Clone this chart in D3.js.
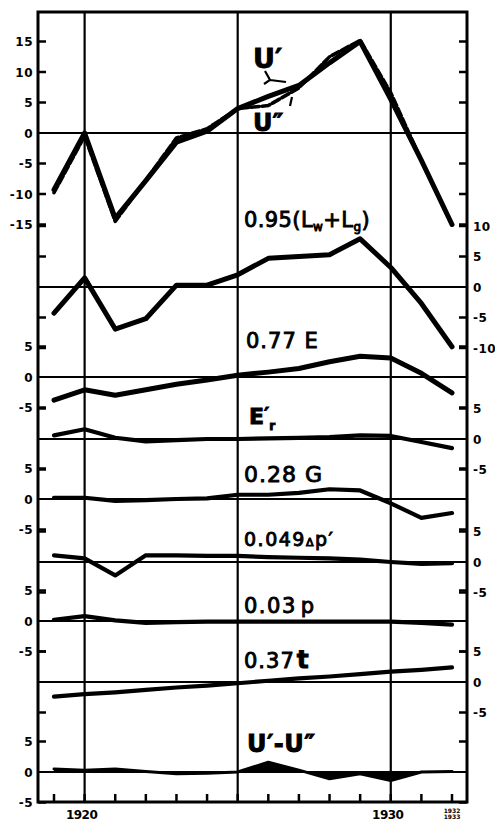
<!DOCTYPE html>
<html>
<head>
<meta charset="utf-8">
<script src="https://cdn.jsdelivr.net/npm/d3@7"></script>
<style>
  body { margin: 0; background: #fff; }
  svg { display: block; }
  text { font-family: "DejaVu Sans", sans-serif; fill: #000; }
</style>
</head>
<body>
<div id="chart"></div>
<script>
// years on the x axis
var years = [1919, 1920, 1921, 1922, 1923, 1924, 1925, 1926, 1927, 1928, 1929, 1930, 1931, 1932];

// series values
var uPrime  = [-9.3, 0, -14, -7.8, -1.5, 0.3, 4, 6.0, 7.8, 11.5, 15, 5.5, -4.5, -15];
var uSecond = [-9.8, -0.5, -14.5, -7.7, -0.8, 0.7, 4, 4.5, 7.4, 12.5, 15.2, 6.6, -4.5, -15.1];
var lwlg    = [-4.3, 1.5, -6.9, -5.2, 0.3, 0.3, 2.0, 4.7, 5.0, 5.3, 7.9, 3.2, -2.7, -9.8];
var e77     = [-3.8, -2.1, -3.0, -2.1, -1.2, -0.5, 0.3, 0.8, 1.4, 2.5, 3.4, 3.1, 0.6, -2.6];
var eR      = [0.6, 1.6, 0.2, -0.4, -0.2, 0, 0, 0.1, 0.2, 0.3, 0.6, 0.5, -0.5, -1.5];
var g28     = [0.2, 0.2, -0.3, -0.2, 0, 0.1, 0.7, 0.7, 1.0, 1.6, 1.4, -0.7, -3.1, -2.3];
var dp049   = [1.1, 0.6, -2.2, 1.1, 1.1, 1.0, 1.0, 0.8, 0.7, 0.6, 0.4, 0, -0.3, -0.2];
var p03     = [0.2, 0.8, 0.1, -0.3, -0.2, -0.1, -0.1, -0.1, -0.1, -0.1, -0.1, -0.1, -0.3, -0.6];
var t37     = [-2.4, -2.0, -1.7, -1.3, -0.9, -0.6, -0.2, 0.2, 0.6, 0.9, 1.3, 1.7, 2.0, 2.4];
var uDiff   = [0.5, 0.3, 0.5, 0.1, -0.3, -0.2, 0, 1.6, 0.3, -1.1, -0.3, -1.4, 0, 0.1];

// tick labels
var bigTicks   = [15, 10, 5, 0, -5, -10, -15];
var wideTicks  = [10, 5, 0, -5, -10];
var smallTicks = [5, 0, -5];
var yearLabels = [1920, 1930];
var gridYears  = [1920, 1925, 1930];

var width = 495, height = 827;
var frame = { left: 38, right: 467, top: 12, bottom: 802 };
var unit = 6.1; // px per unit on every panel

// layout of the stacked panels: baseline (zero line) in px, side of labels
var panels = [
    { values: uPrime,  zero: 133, side: 'left',  ticks: bigTicks },
    { values: lwlg,    zero: 287, side: 'right', ticks: wideTicks },
    { values: e77,     zero: 377, side: 'left',  ticks: smallTicks },
    { values: eR,      zero: 439, side: 'right', ticks: smallTicks },
    { values: g28,     zero: 499, side: 'left',  ticks: smallTicks },
    { values: dp049,   zero: 562, side: 'right', ticks: smallTicks },
    { values: p03,     zero: 621, side: 'left',  ticks: smallTicks },
    { values: t37,     zero: 682, side: 'right', ticks: smallTicks },
    { values: uDiff,   zero: 772, side: 'left',  ticks: smallTicks, filled: true }
];

panels.forEach(function (p) {
    p.y = d3.scaleLinear().domain([-1, 1]).range([p.zero + unit, p.zero - unit]);
});

var x = d3.scaleLinear().domain([1919, 1932]).range([54, 452]);

var svg = d3.select('#chart').append('svg')
    .attr('width', width)
    .attr('height', height);

// zero lines
panels.forEach(function (p) {
    svg.append('line')
        .attr('x1', frame.left).attr('x2', frame.right)
        .attr('y1', p.y(0)).attr('y2', p.y(0))
        .style('stroke', '#000').style('stroke-width', 2.2);
});

// vertical grid lines
gridYears.forEach(function (yr) {
    svg.append('line')
        .attr('x1', x(yr)).attr('x2', x(yr))
        .attr('y1', frame.top).attr('y2', frame.bottom)
        .style('stroke', '#000').style('stroke-width', 2.2);
});

// frame
svg.append('rect')
    .attr('x', frame.left).attr('y', frame.top)
    .attr('width', frame.right - frame.left)
    .attr('height', frame.bottom - frame.top)
    .attr('fill', 'none')
    .style('stroke', '#000').style('stroke-width', 3);

// y ticks, inward on both sides; labels on the panel's side
panels.forEach(function (p) {
    p.ticks.forEach(function (t) {
        var ty = p.y(t);
        if (ty < frame.top + 4 || ty > frame.bottom + 2) { return; }
        if (t !== 0) {
            svg.append('line')
                .attr('x1', frame.left).attr('x2', frame.left + 8)
                .attr('y1', ty).attr('y2', ty)
                .style('stroke', '#000').style('stroke-width', 2.5);
            svg.append('line')
                .attr('x1', frame.right - 8).attr('x2', frame.right)
                .attr('y1', ty).attr('y2', ty)
                .style('stroke', '#000').style('stroke-width', 2.5);
        }
        svg.append('text')
            .attr('x', p.side === 'left' ? frame.left - 5 : frame.right + 6)
            .attr('y', ty + 4.5)
            .attr('text-anchor', p.side === 'left' ? 'end' : 'start')
            .style('font-size', '12px')
            .style('font-weight', 'bold')
            .style('letter-spacing', '0.5px')
            .text(t);
    });
});

// bottom year ticks
years.forEach(function (yr) {
    svg.append('line')
        .attr('x1', x(yr)).attr('x2', x(yr))
        .attr('y1', frame.bottom).attr('y2', frame.bottom - 8)
        .style('stroke', '#000').style('stroke-width', 2.5);
});

yearLabels.forEach(function (yr) {
    svg.append('text')
        .attr('x', x(yr) - 3)
        .attr('y', frame.bottom + 17)
        .attr('text-anchor', 'middle')
        .style('font-size', '12px')
        .style('font-weight', 'bold')
        .style('letter-spacing', '-0.5px')
        .text(yr);
});

// tiny stacked label under the last year
svg.append('text')
    .attr('x', x(1932)).attr('y', frame.bottom + 11)
    .attr('text-anchor', 'middle')
    .style('font-size', '6px').style('font-weight', 'bold')
    .text('1932');
svg.append('text')
    .attr('x', x(1932)).attr('y', frame.bottom + 17)
    .attr('text-anchor', 'middle')
    .style('font-size', '6px').style('font-weight', 'bold')
    .text('1933');

// series lines
function drawSeries(p, values, width, dash) {
    var line = d3.line()
        .x(function (d, i) { return x(years[i]); })
        .y(function (d) { return p.y(d); });
    if (p.filled) {
        var area = d3.area()
            .x(function (d, i) { return x(years[i]); })
            .y0(p.y(0))
            .y1(function (d) { return p.y(d); });
        svg.append('path')
            .datum(values)
            .attr('d', area)
            .attr('fill', '#000');
    }
    svg.append('path')
        .datum(values)
        .attr('d', line)
        .attr('fill', 'none')
        .style('stroke', '#000')
        .style('stroke-width', width)
        .style('stroke-linejoin', 'round')
        .style('stroke-linecap', 'round')
        .style('stroke-dasharray', dash || null);
}

drawSeries(panels[0], uSecond, 3.5, '8,3');
drawSeries(panels[0], uPrime, 5);
for (var i = 1; i < panels.length; i++) {
    drawSeries(panels[i], panels[i].values, i < 3 ? 5 : (panels[i].filled ? 3 : 4.2));
}

// series labels
function label(xPos, yPos, size, parts) {
    var t = svg.append('text')
        .attr('x', xPos).attr('y', yPos)
        .style('font-size', size + 'px')
        .style('stroke', '#000').style('stroke-width', 0.9);
    parts.forEach(function (part) {
        var s = t.append('tspan').text(part.t);
        if (part.size) { s.style('font-size', part.size + 'px'); }
        if (part.dy) { s.attr('dy', part.dy); }
        if (part.dx) { s.attr('dx', part.dx); }
        if (part.bold) { s.style('font-weight', 'bold'); }
    });
    return t;
}

label(253, 68, 27, [{ t: 'U′' }]).style('font-weight', 'bold');
label(253, 131, 24, [{ t: 'U″' }]).style('font-weight', 'bold');

// brace marks tying the U labels to their lines
svg.append('path')
    .attr('d', 'M265,71 L270,80 L264,84 M270,80 L286,82')
    .attr('fill', 'none').style('stroke', '#000').style('stroke-width', 2.2);
svg.append('path')
    .attr('d', 'M290,106 L292,97')
    .attr('fill', 'none').style('stroke', '#000').style('stroke-width', 2.2);

label(244, 227, 21, [
    { t: '0.95(L' }, { t: 'w', size: 12, dy: 4 }, { t: '+L', dy: -4 },
    { t: 'g', size: 12, dy: 4 }, { t: ')', dy: -4 }
]).style('letter-spacing', '0.4px');
label(246, 348, 21, [{ t: '0.77 E' }]).style('letter-spacing', '1px');
label(249, 424, 22, [
    { t: 'E' }, { t: '′', size: 20, dy: -3 }, { t: 'r', size: 12, dx: 0, dy: 9 }
]).style('font-weight', 'bold');
label(244, 482, 22, [{ t: '0.28 G' }]).style('letter-spacing', '1px');
label(244, 546, 19, [
    { t: '0.049' }, { t: 'Δ', size: 11 }, { t: 'p′' }
]).style('letter-spacing', '1.5px');
label(244, 613, 21, [{ t: '0.03' }, { t: 'p', dx: 4 }]).style('letter-spacing', '1.5px');
label(244, 668, 21, [{ t: '0.37' }, { t: 't', size: 25, dx: 2, bold: true }]).style('letter-spacing', '1px');
label(247, 752, 24, [{ t: 'U′-U″' }]).style('font-weight', 'bold').style('letter-spacing', '0.5px');
</script>
</body>
</html>
